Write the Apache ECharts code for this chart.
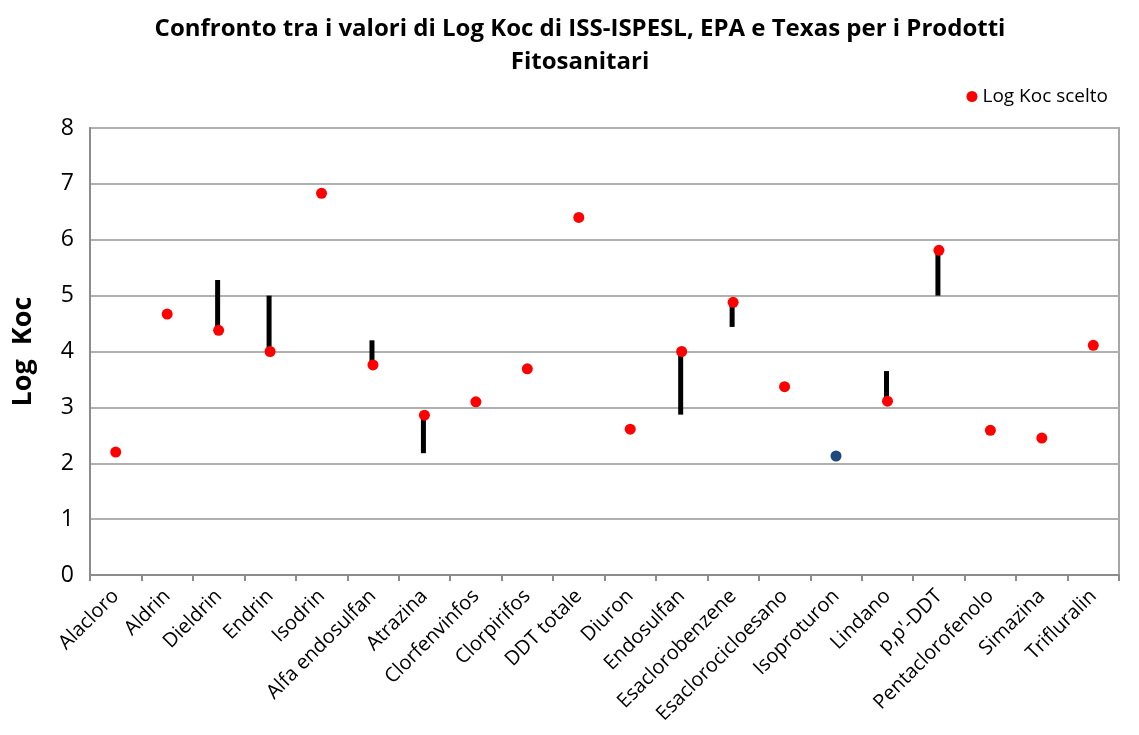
<!DOCTYPE html>
<html>
<head>
<meta charset="utf-8">
<script src="https://cdn.jsdelivr.net/npm/echarts@6/dist/echarts.min.js"></script>
<style>
  html, body { margin: 0; padding: 0; background: #fff; }
  #chart { width: 1139px; height: 735px; }
</style>
</head>
<body>
<div id="chart"></div>
<script>
// categorie (prodotti fitosanitari)
var categories = ["Alacloro", "Aldrin", "Dieldrin", "Endrin", "Isodrin", "Alfa endosulfan",
  "Atrazina", "Clorfenvinfos", "Clorpirifos", "DDT totale", "Diuron", "Endosulfan",
  "Esaclorobenzene", "Esaclorocicloesano", "Isoproturon", "Lindano", "p,p'-DDT",
  "Pentaclorofenolo", "Simazina", "Trifluralin"];
// Log Koc scelto
var kocScelto = [2.2, 4.67, 4.38, 4.0, 6.83, 3.76, 2.86, 3.1, 3.69, 6.4, 2.61, 4.0,
  4.88, 3.37, 2.13, 3.11, 5.81, 2.59, 2.45, 4.11];
// intervallo tra i valori (min / max), null = nessun intervallo
var rangeLow  = [null, null, 4.38, 4.0, null, 3.76, 2.18, null, null, null, null, 2.87,
  4.44, null, null, 3.11, 5.0, null, null, null];
var rangeHigh = [null, null, 5.28, 5.0, null, 4.2, 2.86, null, null, null, null, 4.0,
  4.88, null, null, 3.65, 5.81, null, null, null];
var yTicks = [0, 1, 2, 3, 4, 5, 6, 7, 8];
var blueIndex = 14;

var rangeData = [];
for (var i = 0; i < categories.length; i++) {
  if (rangeLow[i] != null) rangeData.push([i, rangeLow[i], rangeHigh[i]]);
}

var myChart = echarts.init(document.getElementById("chart"));
myChart.setOption({
  animation: false,
  title: {
    text: "Confronto tra i valori di Log Koc di ISS-ISPESL, EPA e Texas per i Prodotti\nFitosanitari",
    left: 575,
    textAlign: "center",
    top: 8,
    textStyle: {
      fontFamily: "Open Sans",
      fontWeight: "bold",
      fontSize: 24,
      lineHeight: 33,
      color: "#000"
    }
  },
  legend: {
    right: 26,
    top: 82,
    icon: "circle",
    itemWidth: 11,
    itemHeight: 11,
    data: ["Log Koc scelto"],
    textStyle: { fontFamily: "Open Sans", fontSize: 19, color: "#000" }
  },
  grid: {
    left: 90,
    right: 20,
    top: 128,
    bottom: 160,
    outerBoundsMode: "none",
    show: true,
    borderColor: "#a6a6a6",
    borderWidth: 2
  },
  xAxis: {
    type: "category",
    data: categories,
    axisLine: { lineStyle: { color: "#8c8c8c", width: 2 } },
    axisTick: { show: true, length: 6, lineStyle: { color: "#8c8c8c", width: 2 } },
    axisLabel: {
      rotate: 45,
      interval: 0,
      margin: 18,
      fontFamily: "Open Sans",
      fontSize: 20,
      color: "#000"
    }
  },
  yAxis: {
    type: "value",
    min: yTicks[0],
    max: yTicks[yTicks.length - 1],
    interval: 1,
    name: "Log  Koc",
    nameLocation: "middle",
    nameGap: 53,
    nameTextStyle: { fontFamily: "Open Sans", fontWeight: "bold", fontSize: 27, color: "#000" },
    axisLine: { show: true, lineStyle: { color: "#8c8c8c", width: 2 } },
    axisTick: { show: false },
    splitLine: { lineStyle: { color: "#b0b0b0", width: 2 } },
    axisLabel: { fontFamily: "Open Sans", fontSize: 23, color: "#000", margin: 16 }
  },
  series: [
    {
      name: "Intervallo",
      type: "custom",
      data: rangeData,
      z: 2,
      renderItem: function (params, api) {
        var p1 = api.coord([api.value(0), api.value(1)]);
        var p2 = api.coord([api.value(0), api.value(2)]);
        return {
          type: "line",
          shape: { x1: p1[0] - 1, y1: p1[1], x2: p2[0] - 1, y2: p2[1] },
          style: { stroke: "#000", lineWidth: 5 }
        };
      }
    },
    {
      name: "Log Koc scelto",
      type: "scatter",
      symbolSize: 11,
      z: 3,
      itemStyle: { color: "#ff0000", opacity: 1 },
      data: kocScelto.map(function (v, i) {
        if (i === blueIndex) return { value: v, itemStyle: { color: "#1f497d" } };
        return v;
      })
    }
  ]
});
</script>
</body>
</html>
